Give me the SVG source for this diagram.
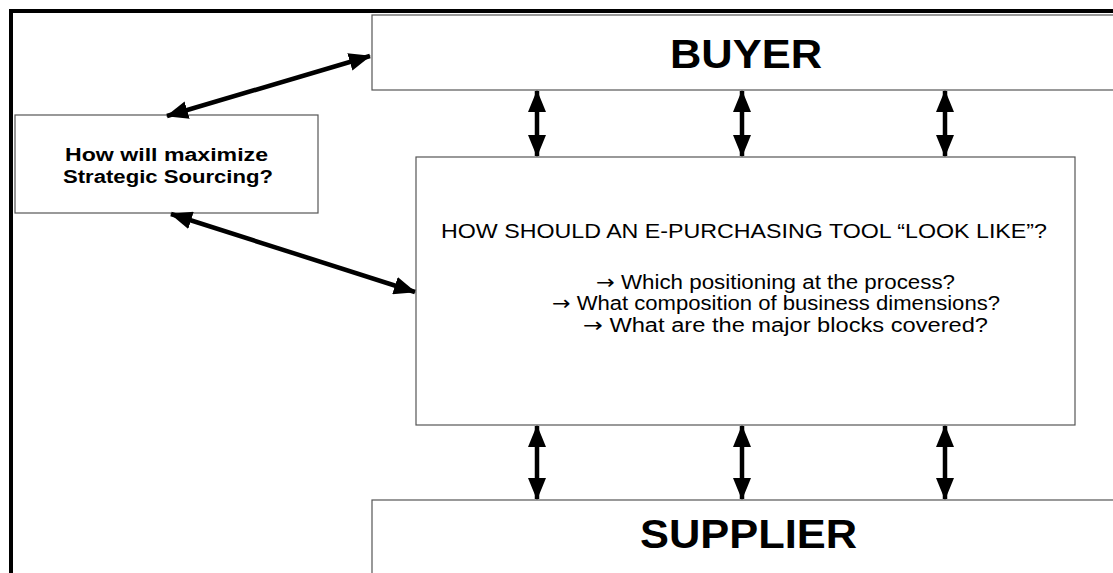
<svg xmlns="http://www.w3.org/2000/svg" width="1113" height="573" viewBox="0 0 1113 573">
  <style>
    .box { fill: #ffffff; stroke: #555555; stroke-width: 1.2; }
    .title { font-family: "Liberation Sans", Arial, sans-serif; font-weight: bold; fill: #000; }
    .body { font-family: "Liberation Sans", Arial, sans-serif; fill: #000; font-size: 20px; }
    .sym { font-family: "DejaVu Sans", sans-serif; }
    .link { stroke: #000; stroke-width: 4.5; fill: none; marker-start: url(#head); marker-end: url(#head); }
  </style>
  <defs>
    <marker id="head" viewBox="0 0 22 18" refX="21" refY="9" markerWidth="22" markerHeight="18" markerUnits="userSpaceOnUse" orient="auto-start-reverse">
      <path d="M0,0 L22,9 L0,18 Z" fill="#000"/>
    </marker>
  </defs>

  <rect width="1113" height="573" fill="#ffffff"/>

  <!-- outer frame -->
  <path d="M11,573 L11,11 L1113,11" fill="none" stroke="#000" stroke-width="4"/>

  <g id="buyer">
    <rect class="box" x="372" y="15" width="745" height="75"/>
    <text class="title" x="670" y="68" font-size="41" textLength="152" lengthAdjust="spacingAndGlyphs">BUYER</text>
  </g>

  <g id="strategic-sourcing">
    <rect class="box" x="15" y="115" width="303" height="98"/>
    <text class="title" x="65" y="161" font-size="18" textLength="203" lengthAdjust="spacingAndGlyphs">How will maximize</text>
    <text class="title" x="63" y="183" font-size="18" textLength="210" lengthAdjust="spacingAndGlyphs">Strategic Sourcing?</text>
  </g>

  <g id="e-purchasing-tool">
    <rect class="box" x="416" y="157" width="659" height="268"/>
    <text class="body" x="441" y="238" textLength="606" lengthAdjust="spacingAndGlyphs">HOW SHOULD AN E-PURCHASING TOOL “LOOK LIKE”?</text>
    <text class="body" x="596" y="289" textLength="359" lengthAdjust="spacingAndGlyphs"><tspan class="sym">→</tspan> Which positioning at the process?</text>
    <text class="body" x="552" y="310" textLength="448" lengthAdjust="spacingAndGlyphs"><tspan class="sym">→</tspan> What composition of business dimensions?</text>
    <text class="body" x="583" y="332" textLength="405" lengthAdjust="spacingAndGlyphs"><tspan class="sym">→</tspan> What are the major blocks covered?</text>
  </g>

  <g id="supplier">
    <rect class="box" x="372" y="500" width="745" height="80"/>
    <text class="title" x="640" y="548" font-size="41" textLength="217" lengthAdjust="spacingAndGlyphs">SUPPLIER</text>
  </g>

  <g id="connectors">
    <line class="link" x1="370" y1="56" x2="167" y2="116"/>
    <line class="link" x1="171" y1="214" x2="415" y2="292"/>
    <line class="link" x1="537" y1="91" x2="537" y2="156"/>
    <line class="link" x1="742" y1="91" x2="742" y2="156"/>
    <line class="link" x1="945" y1="91" x2="945" y2="156"/>
    <line class="link" x1="537" y1="426" x2="537" y2="499"/>
    <line class="link" x1="742" y1="426" x2="742" y2="499"/>
    <line class="link" x1="945" y1="426" x2="945" y2="499"/>
  </g>
</svg>
